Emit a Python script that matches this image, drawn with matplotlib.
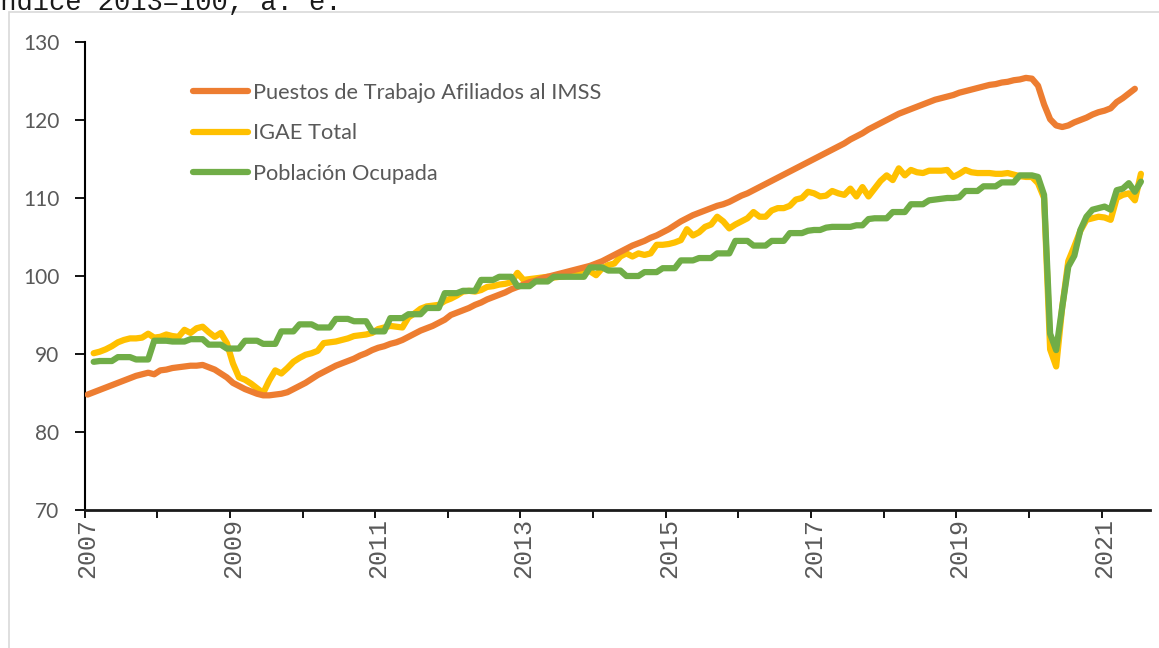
import numpy as np
import matplotlib
matplotlib.use("Agg")
import matplotlib.pyplot as plt
from matplotlib.patches import Rectangle

# Monthly series, Jan 2007 .. Aug 2021 (176 categories)
start_year = 2007
n_months = 176

# Puestos de Trabajo Afiliados al IMSS, Jan 2007 - Jun 2021
imss = [
    84.8, 85.1, 85.4, 85.7, 86.0, 86.3, 86.6, 86.9, 87.2, 87.4, 87.6, 87.4,
    87.9, 88.0, 88.2, 88.3, 88.4, 88.5, 88.5, 88.6, 88.3, 88.0, 87.5, 87.0,
    86.3, 85.9, 85.5, 85.2, 84.9, 84.7, 84.7, 84.8, 84.9, 85.1, 85.5, 85.9,
    86.3, 86.8, 87.3, 87.7, 88.1, 88.5, 88.8, 89.1, 89.4, 89.8, 90.1, 90.5,
    90.8, 91.0, 91.3, 91.5, 91.8, 92.2, 92.6, 93.0, 93.3, 93.6, 94.0, 94.4,
    95.0, 95.3, 95.6, 95.9, 96.3, 96.6, 97.0, 97.3, 97.6, 97.9, 98.3, 98.6,
    98.9, 99.2, 99.4, 99.7, 99.9, 100.1, 100.3, 100.5, 100.7, 100.9, 101.1, 101.3,
    101.6, 101.9, 102.3, 102.7, 103.1, 103.5, 103.9, 104.2, 104.5, 104.9, 105.2, 105.6,
    106.0, 106.5, 107.0, 107.4, 107.8, 108.1, 108.4, 108.7, 109.0, 109.2, 109.5, 109.9,
    110.3, 110.6, 111.0, 111.4, 111.8, 112.2, 112.6, 113.0, 113.4, 113.8, 114.2, 114.6,
    115.0, 115.4, 115.8, 116.2, 116.6, 117.0, 117.5, 117.9, 118.3, 118.8, 119.2, 119.6,
    120.0, 120.4, 120.8, 121.1, 121.4, 121.7, 122.0, 122.3, 122.6, 122.8, 123.0, 123.2,
    123.5, 123.7, 123.9, 124.1, 124.3, 124.5, 124.6, 124.8, 124.9, 125.1, 125.2, 125.4,
    125.3, 124.4, 122.0, 120.1, 119.3, 119.1, 119.3, 119.7, 120.0, 120.3, 120.7, 121.0,
    121.2, 121.5, 122.3, 122.8, 123.4, 124.0,
]

# IGAE Total, Feb 2007 - Jul 2021
igae = [
    90.1, 90.3, 90.6, 91.0, 91.5, 91.8, 92.0, 92.0, 92.1, 92.6, 92.1,
    92.2, 92.5, 92.3, 92.2, 93.1, 92.7, 93.3, 93.5, 92.8, 92.2, 92.7, 91.4,
    88.8, 87.0, 86.7, 86.2, 85.6, 85.0, 86.6, 87.9, 87.5, 88.2, 89.0, 89.5,
    89.9, 90.1, 90.4, 91.4, 91.5, 91.6, 91.8, 92.0, 92.3, 92.4, 92.5, 92.7,
    93.2, 93.4, 93.6, 93.5, 93.4, 94.7, 95.2, 95.8, 96.1, 96.2, 96.3, 96.8,
    97.1, 97.5, 98.0, 98.1, 98.0, 98.2, 98.6, 98.7, 98.9, 99.0, 99.2, 100.4,
    99.5, 99.6, 99.7, 99.8, 99.9, 99.8, 99.9, 100.0, 100.3, 100.5, 100.8, 100.6,
    100.1, 101.0, 101.4, 101.6, 102.5, 102.9, 102.5, 102.9, 102.7, 102.9, 104.0, 104.0,
    104.1, 104.3, 104.6, 106.0, 105.2, 105.6, 106.3, 106.6, 107.6, 107.0, 106.1, 106.6,
    107.0, 107.4, 108.2, 107.6, 107.6, 108.4, 108.7, 108.7, 109.0, 109.8, 110.0, 110.8,
    110.6, 110.2, 110.3, 110.9, 110.6, 110.4, 111.2, 110.2, 111.4, 110.2, 111.2, 112.2,
    112.9, 112.3, 113.8, 112.9, 113.6, 113.3, 113.2, 113.5, 113.5, 113.5, 113.6, 112.7,
    113.1, 113.6, 113.3, 113.2, 113.2, 113.2, 113.1, 113.1, 113.2, 113.0, 112.8, 112.7,
    112.7, 111.9, 110.0, 90.6, 88.4, 96.0, 101.9, 103.8, 105.8, 107.2, 107.4, 107.6,
    107.5, 107.2, 110.0, 110.4, 110.6, 109.7, 113.1,
]

# Poblacion Ocupada, Feb 2007 - Jul 2021
ocupada = [
    89.0, 89.1, 89.1, 89.1, 89.6, 89.6, 89.6, 89.3, 89.3, 89.3, 91.7,
    91.7, 91.7, 91.6, 91.6, 91.6, 91.9, 91.9, 91.9, 91.2, 91.2, 91.2, 90.7,
    90.7, 90.7, 91.7, 91.7, 91.7, 91.3, 91.3, 91.3, 92.9, 92.9, 92.9, 93.8,
    93.8, 93.8, 93.4, 93.4, 93.4, 94.5, 94.5, 94.5, 94.2, 94.2, 94.2, 92.9,
    92.9, 92.9, 94.6, 94.6, 94.6, 95.1, 95.1, 95.1, 95.9, 95.9, 95.9, 97.8,
    97.8, 97.8, 98.1, 98.1, 98.1, 99.5, 99.5, 99.5, 99.9, 99.9, 99.9, 98.7,
    98.7, 98.7, 99.3, 99.3, 99.3, 99.9, 99.9, 99.9, 99.9, 99.9, 99.9, 101.1,
    101.1, 101.1, 100.7, 100.7, 100.7, 100.0, 100.0, 100.0, 100.5, 100.5, 100.5, 101.0,
    101.0, 101.0, 102.0, 102.0, 102.0, 102.3, 102.3, 102.3, 102.9, 102.9, 102.9, 104.5,
    104.5, 104.5, 103.9, 103.9, 103.9, 104.5, 104.5, 104.5, 105.5, 105.5, 105.5, 105.8,
    105.9, 105.9, 106.2, 106.3, 106.3, 106.3, 106.3, 106.5, 106.5, 107.3, 107.4, 107.4,
    107.4, 108.2, 108.2, 108.2, 109.2, 109.2, 109.2, 109.7, 109.8, 109.9, 110.0, 110.0,
    110.1, 110.9, 110.9, 110.9, 111.5, 111.5, 111.5, 112.0, 112.0, 112.0, 112.9, 112.9,
    112.9, 112.7, 110.4, 92.6, 90.5, 96.0, 101.2, 102.6, 105.9, 107.6, 108.5, 108.7,
    108.9, 108.5, 111.0, 111.2, 111.9, 110.8, 112.1,
]

labels = ["Puestos de Trabajo Afiliados al IMSS", "IGAE Total", "Población Ocupada"]
colors = ["#ED7D31", "#FFC000", "#70AD47"]
title = "Índice 2013=100, a. e."
year_labels = [str(y) for y in range(2007, 2022, 2)]

gray = "#595959"
W, H = 1159, 648
fig = plt.figure(figsize=(W / 100, H / 100), dpi=100)
ax = fig.add_axes([84.6 / W, 1 - 510 / H, (1150 - 84.6) / W, 468 / H])

# light frame around the chart area
fig.patches.append(Rectangle((9 / W, -0.1), 1.2, 1 - 12 / H + 0.1, transform=fig.transFigure,
                             fill=False, edgecolor="#D9D9D9", linewidth=1.2))

x_imss = np.arange(len(imss))
x_igae = np.arange(1, 1 + len(igae))
x_ocup = np.arange(1, 1 + len(ocupada))
lw = 4.5
ax.plot(x_imss, imss, color=colors[0], lw=lw, solid_capstyle="round", solid_joinstyle="round", label=labels[0], zorder=3)
ax.plot(x_igae, igae, color=colors[1], lw=lw, solid_capstyle="round", solid_joinstyle="round", label=labels[1], zorder=2)
ax.plot(x_ocup, ocupada, color=colors[2], lw=lw, solid_capstyle="round", solid_joinstyle="round", label=labels[2], zorder=4)

ax.set_xlim(-0.5, n_months - 0.5)
ax.set_ylim(70, 130)
ax.set_yticks(range(70, 131, 10))

for s in ["top", "right"]:
    ax.spines[s].set_visible(False)
ax.spines["left"].set_linewidth(1.5)
ax.spines["bottom"].set_linewidth(2.0)
ax.spines["bottom"].set_color("#1a1a1a")

ax.tick_params(axis="y", direction="out", length=7, width=1.3, pad=11, labelsize=15, labelcolor=gray)
for t in ax.get_yticklabels():
    t.set_fontfamily("Lato")

# year labels on January of odd years, tick marks on year boundaries
ax.set_xticks(np.arange(0, n_months, 24))
ax.set_xticklabels(year_labels, rotation=90, family="Liberation Mono", fontsize=18, color=gray)
ax.tick_params(axis="x", which="major", length=0, pad=6)
ax.set_xticks(np.arange(-0.5, n_months - 1, 12), minor=True)
ax.tick_params(axis="x", which="minor", direction="out", length=6, width=1.3)

leg = ax.legend(loc="upper left", bbox_to_anchor=((193 - 84.6) / 1065.4, (510 - 83) / 468),
                frameon=False, handlelength=2.5, handletextpad=0.25, labelspacing=0.93,
                borderpad=0, borderaxespad=0, prop={"family": "Lato", "size": 15.7})
for t in leg.get_texts():
    t.set_color(gray)

fig.text(-16 / W, 1 - 10 / H, title, family="Liberation Mono", fontsize=19.5,
         ha="left", va="baseline", color="#1a1a1a")

fig.savefig("out.png", dpi=100)
